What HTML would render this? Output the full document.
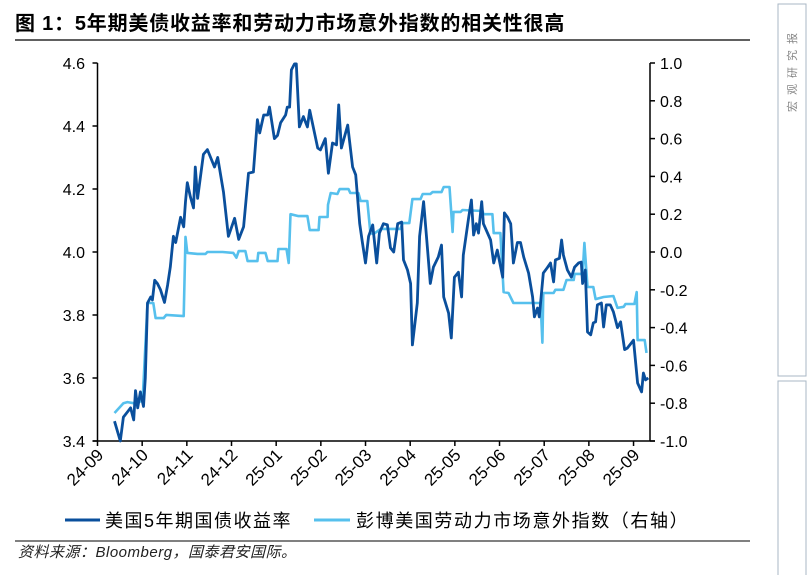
<!DOCTYPE html>
<html><head><meta charset="utf-8"><style>
body{margin:0;background:#fff;}
svg{display:block;font-family:"Liberation Sans","Noto Sans CJK SC",sans-serif;}
</style></head><body>
<svg width="808" height="575" viewBox="0 0 808 575">
<text x="15" y="30" font-size="20" font-weight="bold" letter-spacing="0.8" fill="#000">图 1：5年期美债收益率和劳动力市场意外指数的相关性很高</text>
<line x1="15" y1="40" x2="750" y2="40" stroke="#000" stroke-width="1.2"/>
<rect x="778" y="4" width="28" height="372" fill="none" stroke="#a9b7c4" stroke-width="1"/>
<rect x="778" y="381" width="28" height="200" fill="none" stroke="#a9b7c4" stroke-width="1"/>
<text transform="translate(796,112) rotate(-90)" font-size="11" fill="#888" letter-spacing="6">宏观研究报</text>
<g id="axes"></g>
<g id="series"></g>
<g>
<line x1="65" y1="520" x2="100" y2="520" stroke="#0a4f9c" stroke-width="3"/>
<text x="105" y="527" font-size="18" letter-spacing="1.5">美国5年期国债收益率</text>
<line x1="314" y1="520" x2="350" y2="520" stroke="#56c0ed" stroke-width="3"/>
<text x="356" y="527" font-size="18" letter-spacing="1.6">彭博美国劳动力市场意外指数（右轴）</text>
</g>
<line x1="15" y1="541" x2="750" y2="541" stroke="#000" stroke-width="1"/>
<text x="18" y="557" font-size="15" font-style="italic" letter-spacing="0.5" fill="#222">资料来源：Bloomberg，国泰君安国际。</text>
</svg>
<script>
const xLabels=["24-09","24-10","24-11","24-12","25-01","25-02","25-03","25-04","25-05","25-06","25-07","25-08","25-09"];
const leftTicks=[3.4,3.6,3.8,4.0,4.2,4.4,4.6];
const rightTicks=[-1.0,-0.8,-0.6,-0.4,-0.2,0.0,0.2,0.4,0.6,0.8,1.0];
const yieldT=[0.38,0.51,0.58,0.74,0.81,0.85,0.90,0.96,1.03,1.07,1.12,1.19,1.23,1.28,1.34,1.41,1.50,1.57,1.63,1.70,1.75,1.86,1.93,1.97,2.01,2.08,2.15,2.19,2.24,2.37,2.46,2.62,2.69,2.82,2.93,3.07,3.16,3.27,3.38,3.49,3.58,3.63,3.72,3.81,3.85,3.96,4.03,4.10,4.21,4.25,4.30,4.34,4.41,4.45,4.52,4.61,4.70,4.75,4.93,4.99,5.10,5.17,5.26,5.35,5.40,5.46,5.60,5.71,5.78,5.87,5.93,6.00,6.07,6.16,6.25,6.31,6.40,6.49,6.56,6.63,6.72,6.81,6.85,6.94,7.01,7.05,7.16,7.21,7.30,7.39,7.45,7.52,7.63,7.70,7.75,7.86,7.92,7.99,8.08,8.15,8.19,8.31,8.37,8.42,8.48,8.53,8.60,8.64,8.80,8.87,8.95,9.07,9.11,9.18,9.25,9.31,9.40,9.47,9.54,9.65,9.74,9.78,9.85,9.89,9.98,10.07,10.14,10.21,10.25,10.34,10.39,10.43,10.52,10.61,10.68,10.77,10.83,10.86,10.92,10.97,11.04,11.10,11.15,11.19,11.28,11.33,11.39,11.48,11.55,11.64,11.71,11.80,11.86,12.00,12.09,12.18,12.22,12.27,12.33];
const yieldV=[3.463,3.40,3.476,3.505,3.467,3.56,3.505,3.556,3.51,3.60,3.838,3.857,3.848,3.91,3.90,3.88,3.84,3.895,3.952,4.05,4.03,4.11,4.08,4.16,4.22,4.175,4.14,4.27,4.17,4.31,4.325,4.27,4.30,4.19,4.05,4.107,4.04,4.08,4.25,4.254,4.42,4.378,4.435,4.435,4.46,4.36,4.37,4.41,4.435,4.46,4.46,4.578,4.597,4.597,4.397,4.43,4.397,4.45,4.33,4.324,4.36,4.25,4.346,4.34,4.467,4.33,4.403,4.27,4.245,4.09,4.03,3.965,4.05,4.086,3.965,4.06,4.09,4.086,4.013,4.0,4.09,4.095,3.975,3.943,3.90,3.705,3.838,4.05,4.16,4.006,3.90,3.952,3.984,4.022,3.857,3.806,3.727,3.92,3.936,3.857,3.99,4.11,4.165,4.054,4.09,4.06,4.16,4.09,4.038,3.965,4.006,3.92,4.124,4.11,4.09,3.965,4.03,4.03,3.984,3.933,3.857,3.794,3.822,3.794,3.933,3.95,3.965,3.905,3.975,3.98,4.038,3.99,3.943,3.92,3.952,3.965,3.968,3.90,3.943,3.746,3.737,3.775,3.778,3.832,3.838,3.762,3.832,3.832,3.81,3.76,3.778,3.69,3.695,3.72,3.584,3.556,3.616,3.594,3.60];
const surpT=[0.38,0.58,0.67,0.81,1.01,1.03,1.12,1.25,1.30,1.48,1.54,1.93,1.97,2.01,2.24,2.42,2.46,2.80,3.04,3.11,3.16,3.31,3.36,3.58,3.60,3.76,3.81,4.03,4.05,4.23,4.28,4.32,4.50,4.70,4.75,4.95,4.97,5.15,5.16,5.22,5.37,5.42,5.62,5.66,5.84,5.89,6.04,6.11,6.18,6.34,6.78,6.83,6.98,7.05,7.23,7.28,7.45,7.50,7.70,7.75,7.88,7.95,7.97,8.13,8.17,8.62,8.64,8.84,8.87,9.02,9.09,9.20,9.31,9.92,9.96,9.98,10.21,10.25,10.43,10.50,10.66,10.68,10.86,10.90,10.97,11.10,11.15,11.33,11.55,11.64,11.78,11.82,12.02,12.07,12.09,12.25,12.29];
const surpV=[-0.852,-0.80,-0.794,-0.80,-0.788,-0.693,-0.27,-0.27,-0.35,-0.35,-0.333,-0.339,0.08,-0.005,-0.01,-0.01,0.0,0.0,-0.005,-0.03,0.005,0.005,-0.048,-0.048,-0.005,-0.005,-0.048,-0.048,0.016,0.016,-0.058,0.2,0.19,0.19,0.116,0.116,0.185,0.185,0.25,0.312,0.307,0.333,0.333,0.312,0.312,0.27,0.27,0.10,0.095,0.122,0.122,0.153,0.153,0.28,0.28,0.307,0.307,0.317,0.317,0.344,0.344,0.106,0.212,0.212,0.222,0.217,0.20,0.20,0.10,0.10,-0.212,-0.217,-0.27,-0.27,-0.48,-0.217,-0.217,-0.20,-0.20,-0.148,-0.148,-0.116,-0.116,0.048,-0.185,-0.185,-0.249,-0.238,-0.233,-0.296,-0.29,-0.275,-0.275,-0.212,-0.466,-0.466,-0.534];

const NS="http://www.w3.org/2000/svg";
const X0=97.5,XM=44.67,Y0=63,Y1=441,XR=650;
const xS=t=>X0+t*XM;
const yL=v=>Y1-(v-3.4)/1.2*(Y1-Y0);
const yR=v=>Y1-(v+1)/2*(Y1-Y0);
function mk(tag,attrs,parent){const e=document.createElementNS(NS,tag);for(const k in attrs)e.setAttribute(k,attrs[k]);parent.appendChild(e);return e;}
const ax=document.getElementById('axes');
let l=mk('line',{x1:X0,y1:Y0,x2:X0,y2:Y1,stroke:'#000','stroke-width':1.5},ax);


l=mk('line',{x1:XR,y1:Y0,x2:XR,y2:Y1,stroke:'#000','stroke-width':1.5},ax);


l=mk('line',{x1:X0-5,y1:Y1,x2:XR+5,y2:Y1,stroke:'#000','stroke-width':1.5},ax);


leftTicks.forEach(v=>{const y=yL(v);
 const t=mk('line',{x1:X0-5,y1:y,x2:X0,y2:y,stroke:'#000','stroke-width':1.5},ax);
 
 
 const s=mk('text',{x:85,y:y+6,'font-size':16,'text-anchor':'end'},ax);s.textContent=v.toFixed(1);
 
 });
rightTicks.forEach(v=>{const y=yR(v);
 const t=mk('line',{x1:XR,y1:y,x2:XR+5,y2:y,stroke:'#000','stroke-width':1.5},ax);
 
 
 const s=mk('text',{x:660,y:y+6,'font-size':16},ax);s.textContent=v.toFixed(1);
 
 });
xLabels.forEach((lab,i)=>{const x=xS(i);
 const t=mk('line',{x1:x,y1:Y1,x2:x,y2:Y1+5,stroke:'#000','stroke-width':1.5},ax);
 
 
 const s=mk('text',{x:0,y:0,'font-size':17,'text-anchor':'end',transform:`translate(${x+7},${Y1+15}) rotate(-45)`},ax);s.textContent=lab;
 
 });
const sg=document.getElementById('series');
let d=surpT.map((t,i)=>(i?'L':'M')+xS(t).toFixed(1)+','+yR(surpV[i]).toFixed(1)).join('');
let p=mk('path',{d:d,fill:'none',stroke:'#56c0ed','stroke-width':2.6,'stroke-linejoin':'round'},sg);


d=yieldT.map((t,i)=>(i?'L':'M')+xS(t).toFixed(1)+','+yL(yieldV[i]).toFixed(1)).join('');
p=mk('path',{d:d,fill:'none',stroke:'#0a4f9c','stroke-width':2.8,'stroke-linejoin':'round'},sg);


</script>
</body></html>
